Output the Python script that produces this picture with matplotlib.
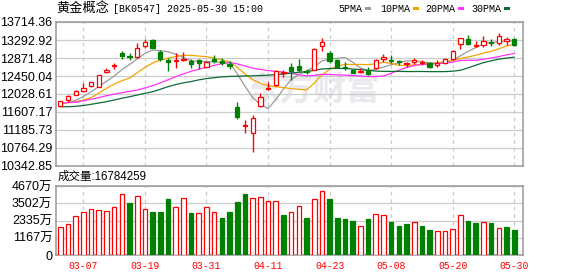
import matplotlib
matplotlib.use('Agg')
import matplotlib.pyplot as plt
from matplotlib.patches import Rectangle
import numpy as np

# trading days shown (2025)
DATES = ['03-04', '03-05', '03-06', '03-07', '03-10', '03-11', '03-12', '03-13', '03-14', '03-17',
         '03-18', '03-19', '03-20', '03-21', '03-24', '03-25', '03-26', '03-27', '03-28', '03-31',
         '04-01', '04-02', '04-03', '04-07', '04-08', '04-09', '04-10', '04-11', '04-14', '04-15',
         '04-16', '04-17', '04-18', '04-21', '04-22', '04-23', '04-24', '04-25', '04-28', '04-29',
         '04-30', '05-06', '05-07', '05-08', '05-09', '05-12', '05-13', '05-14', '05-15', '05-16',
         '05-19', '05-20', '05-21', '05-22', '05-23', '05-26', '05-27', '05-28', '05-29', '05-30']

OPEN = [11759, 11881, 12012, 12092, 12223, 12200, 12537, 12684, 12990, 12918,
        12895, 13141, 13293, 13012, 12813, 12801, 12818, 12801, 12832, 12668,
        12841, 12801, 12724, 11717, 11279, 11108, 11748, 12134, 12239, 12520,
        12668, 12684, 12567, 12602, 13159, 12982, 12825, 12668, 12591, 12551,
        12574, 12630, 12855, 12825, 12790, 12724, 12778, 12761, 12761, 12701,
        12747, 12848, 13192, 13309, 13145, 13176, 13239, 13216, 13270, 13309]
HIGH = [11876, 12005, 12129, 12293, 12317, 12473, 12644, 12761, 13035, 12982,
        13223, 13312, 13316, 13070, 12871, 12982, 13005, 12841, 12855, 12808,
        12942, 12864, 12801, 11848, 11420, 11532, 12045, 12302, 12591, 12591,
        12747, 12841, 12614, 13094, 13347, 13035, 12841, 12785, 12614, 12630,
        12668, 12841, 12958, 12942, 12825, 12785, 12864, 12825, 12785, 12813,
        12864, 13059, 13340, 13410, 13277, 13391, 13309, 13464, 13370, 13347]
LOW = [11748, 11848, 11998, 12082, 12200, 12186, 12527, 12607, 12841, 12825,
       12860, 13099, 13094, 12790, 12574, 12644, 12801, 12644, 12614, 12654,
       12747, 12708, 12614, 11443, 11127, 10659, 11713, 12122, 12216, 12420,
       12356, 12551, 12497, 12579, 13042, 12761, 12630, 12591, 12513, 12513,
       12473, 12607, 12785, 12747, 12708, 12668, 12724, 12708, 12644, 12668,
       12731, 12836, 13089, 13176, 13129, 13136, 13152, 13169, 13176, 13159]
CLOSE = [11858, 11975, 12099, 12169, 12303, 12466, 12591, 12708, 12930, 12895,
         13117, 13246, 13106, 12841, 12778, 12836, 12855, 12731, 12761, 12770,
         12801, 12766, 12691, 11497, 11303, 11478, 11970, 12174, 12560, 12544,
         12574, 12591, 12537, 13075, 13239, 12801, 12668, 12637, 12527, 12574,
         12497, 12818, 12888, 12801, 12770, 12761, 12825, 12778, 12668, 12747,
         12841, 13047, 13333, 13188, 13176, 13281, 13216, 13387, 13305, 13176]

# volume in 万
VOLUME = [1872, 2076, 2617, 2888, 3091, 3024, 2956, 3227, 4106, 3519,
          3970, 3091, 2888, 2888, 3768, 3227, 3835, 2843, 2820, 3227,
          2888, 2482, 2888, 3587, 4128, 3835, 3903, 3632, 3632, 2707,
          2888, 3294, 2482, 3768, 4309, 3790, 2482, 2414, 2301, 1940,
          2414, 2775, 2685, 2233, 1963, 2098, 2233, 1963, 1692, 1602,
          1602, 1737, 2685, 2301, 2166, 2210, 2166, 1805, 1895, 1678.4259]

MA5 = [11800, 11830, 11880, 11970, 12081, 12202, 12325, 12447, 12600, 12719,
       12849, 12980, 13060, 13041, 13018, 12961, 12883, 12808, 12792, 12789,
       12782, 12764, 12756, 12503, 12211, 11946, 11787, 11684, 11897, 12145,
       12364, 12488, 12561, 12664, 12803, 12848, 12863, 12883, 12773, 12640,
       12579, 12609, 12659, 12714, 12753, 12806, 12807, 12785, 12758, 12753,
       12769, 12813, 12924, 13028, 13114, 13202, 13236, 13247, 13270, 13270]
MA10 = [11811, 11825, 11848, 11890, 11942, 12050, 12162, 12260, 12340, 12400,
        12526, 12653, 12754, 12821, 12868, 12905, 12932, 12934, 12917, 12903,
        12872, 12824, 12782, 12648, 12500, 12364, 12276, 12220, 12200, 12178,
        12156, 12138, 12123, 12281, 12474, 12607, 12676, 12723, 12719, 12722,
        12715, 12737, 12772, 12745, 12698, 12694, 12710, 12724, 12738, 12755,
        12790, 12813, 12857, 12896, 12936, 12988, 13028, 13088, 13152, 13195]
MA20 = [11823, 11828, 11834, 11870, 11904, 11945, 11989, 12025, 12059, 12090,
        12122, 12170, 12223, 12290, 12360, 12434, 12500, 12560, 12610, 12652,
        12699, 12738, 12768, 12734, 12684, 12635, 12604, 12577, 12558, 12541,
        12514, 12481, 12452, 12464, 12487, 12485, 12476, 12471, 12460, 12450,
        12435, 12438, 12448, 12513, 12586, 12650, 12693, 12723, 12729, 12739,
        12752, 12775, 12815, 12820, 12817, 12841, 12869, 12906, 12945, 12975]
MA30 = [11731, 11731, 11740, 11760, 11787, 11818, 11848, 11888, 11928, 11965,
        12005, 12045, 12082, 12140, 12200, 12250, 12290, 12320, 12360, 12390,
        12410, 12430, 12440, 12445, 12450, 12455, 12462, 12470, 12482, 12494,
        12518, 12538, 12553, 12583, 12614, 12625, 12628, 12626, 12612, 12601,
        12581, 12566, 12559, 12558, 12558, 12555, 12554, 12556, 12552, 12552,
        12553, 12563, 12584, 12640, 12703, 12763, 12805, 12845, 12870, 12891]

PRICE_TICKS = [13714.36, 13292.92, 12871.48, 12450.04, 12028.61,
               11607.17, 11185.73, 10764.29, 10342.85]
VOL_TICKS = [0, 1167, 2335, 3502, 4670]
VOL_LABELS = ['0', '1167万', '2335万', '3502万', '4670万']
DATE_TICKS = ['03-07', '03-19', '03-31', '04-11', '04-23', '05-08', '05-20', '05-30']
MA_NAMES = ['5PMA', '10PMA', '20PMA', '30PMA']
MA_COLORS = ['#9a9a9a', '#f5a500', '#ff33ff', '#0b6b35']

RED = '#ff0000'
GREEN = '#008000'
GRID = '#cccccc'
FRAME = '#999999'
CJK = ['Liberation Sans', 'Noto Sans CJK SC']

W, H = 578, 276
fig = plt.figure(figsize=(W / 100, H / 100), dpi=100)


def px_box(left, top, right, bottom):
    return [left / W, 1 - bottom / H, (right - left) / W, (bottom - top) / H]


ax = fig.add_axes(px_box(55.7, 22, 522.7, 166))
axv = fig.add_axes(px_box(55.7, 186, 522.7, 255))

x = np.arange(len(CLOSE))
o, h, l, c = (np.array(a, dtype=float) for a in (OPEN, HIGH, LOW, CLOSE))
up = c >= o
edge = np.where(up, RED, GREEN)

# candles
ax.vlines(x, l, h, colors=edge, lw=1, zorder=3)
ax.bar(x, np.maximum(np.abs(c - o), 3), bottom=np.minimum(o, c), width=0.56,
       color=np.where(up, 'white', GREEN), edgecolor=edge, linewidth=0.9, zorder=4)

for ma, col in zip([MA5, MA10, MA20, MA30], MA_COLORS):
    ax.plot(x, ma, color=col, lw=0.9, zorder=2)

# volume, coloured by change vs previous close
prev = np.concatenate([[c[0] - 1], c[:-1]])
vup = c >= prev
vcol = np.where(vup, RED, GREEN)
axv.bar(x, VOLUME, width=0.6, color=np.where(vup, 'white', GREEN),
        edgecolor=vcol, linewidth=0.9, zorder=3)

tick_pos = [DATES.index(d) for d in DATE_TICKS]
for a in (ax, axv):
    a.set_xlim(-0.6, 60.1)
    a.set_xticks(tick_pos)
    a.tick_params(length=0)
    a.grid(True, axis='y', color=GRID, lw=0.9, zorder=0)
    a.grid(True, axis='x', color=GRID, lw=0.9, ls=(0, (3, 3)), zorder=0)
    a.set_axisbelow(True)
    for s in a.spines.values():
        s.set_color(FRAME)
        s.set_linewidth(1.1)

ax.set_ylim(PRICE_TICKS[-1], PRICE_TICKS[0])
ax.set_yticks(PRICE_TICKS)
ax.set_yticklabels(['%.2f' % v for v in PRICE_TICKS], fontsize=9,
                   family='Liberation Sans')
ax.tick_params(axis='y', pad=2.5)
ax.set_xticklabels([])

axv.set_ylim(0, VOL_TICKS[-1])
axv.set_yticks(VOL_TICKS)
axv.set_yticklabels(VOL_LABELS, fontsize=9, family=CJK)
axv.tick_params(axis='y', pad=2.5)
axv.set_xticklabels(DATE_TICKS, fontsize=7, family='Liberation Mono', color=RED)
axv.tick_params(axis='x', pad=4.5)

# watermark
ax.text(0.55, 0.52, '东方财富', transform=ax.transAxes, fontsize=24,
        family='Noto Sans CJK SC', weight='bold', color='#e9e9ee',
        ha='center', va='center', zorder=0)

# title
ty = 1 - 8.5 / H
fig.text(56.7 / W, ty, '黄金概念', fontsize=9.5, family='Noto Sans CJK SC',
         va='center', ha='left')
fig.text(112.7 / W, ty, '[BK0547] 2025-05-30 15:00', fontsize=7.2,
         family='Liberation Mono', va='center', ha='left')

# legend
leg_x = [338.7, 380.0, 425.3, 471.0]
for name, col, lx in zip(MA_NAMES, MA_COLORS, leg_x):
    fig.text(lx / W, 1 - 8.7 / H, name, fontsize=7.2, family='Liberation Mono',
             va='center', ha='left')
    dx = lx + 6.0 * len(name) + 2.5
    fig.add_artist(Rectangle((dx / W, 1 - 10.3 / H), 6 / W, 3 / H,
                             transform=fig.transFigure, color=col, lw=0))

fig.text(57.7 / W, 1 - 176.7 / H, '成交量:16784259', fontsize=8.3, family=CJK,
         va='center', ha='left')

fig.savefig('out.png', dpi=100)
